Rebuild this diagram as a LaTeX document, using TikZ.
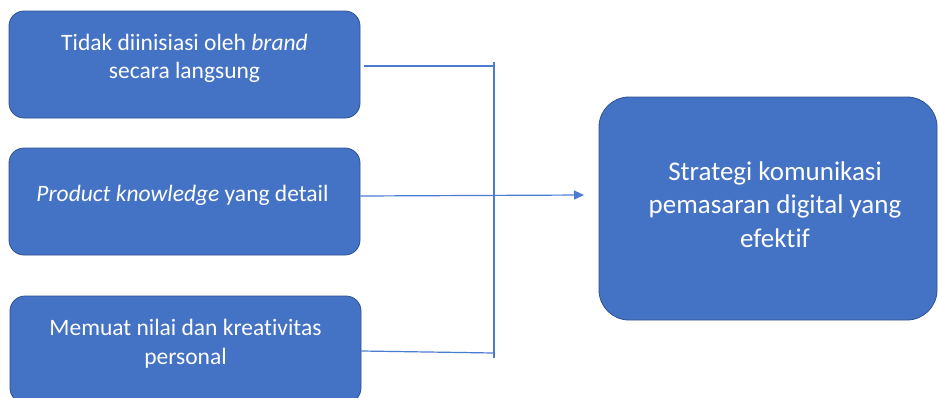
\documentclass[tikz,border=0pt]{standalone}
\usepackage{fontspec}
\setmainfont[Ligatures={NoCommon,NoRare}]{Carlito}
\usetikzlibrary{arrows.meta}
\definecolor{boxfill}{HTML}{4472C4}
\definecolor{boxline}{HTML}{2F528F}
\definecolor{connline}{HTML}{4A7BD0}
\tikzset{
  leftbox/.style={draw=boxline, line width=0.8pt, fill=boxfill, rounded corners=15pt,
    minimum width=351pt, minimum height=107pt, inner sep=0pt},
  bigbox/.style={draw=boxline, line width=0.8pt, fill=boxfill, rounded corners=30pt,
    minimum width=338pt, minimum height=223pt, inner sep=0pt},
  lefttext/.style={text=white, align=center, font=\fontsize{23.5}{28.5}\selectfont, inner sep=0pt},
  bigtext/.style={text=white, align=center, font=\fontsize{27}{33.5}\selectfont, inner sep=0pt},
  conn/.style={draw=connline, line width=1.2pt},
  arrowconn/.style={conn, -{Triangle[length=10pt,width=9pt]}}
}
\begin{document}
\begin{tikzpicture}[x=1pt,y=-1pt]
\useasboundingbox (0,0) rectangle (938,397);
\clip (0,0) rectangle (938,397);
\fill[white] (0,0) rectangle (938,397);
% boxes
\node[leftbox] (b1) at (184.5,64.5) {};
\node[leftbox] (b2) at (184.5,201.5) {};
\node[leftbox] (b3) at (185.5,349.5) {};
\node[bigbox] (b4) at (768,208.5) {};
% texts
\node[lefttext] (t1) at ([yshift=6pt]b1.center) {Tidak diinisiasi oleh \textit{brand}\\secara langsung};
\node[lefttext] (t2) at ([xshift=-2pt,yshift=6pt]b2.center) {\textit{Product knowledge} yang detail};
\node[lefttext] (t3) at ([yshift=6pt]b3.center) {Memuat nilai dan kreativitas\\personal};
\node[bigtext] (t4) at ([xshift=7pt,yshift=4pt]b4.center) {Strategi komunikasi\\pemasaran digital yang\\efektif};
% connector points
\coordinate (s1) at (364,66);
\coordinate (j1) at (494,66);
\coordinate (vt) at (494,62);
\coordinate (vb) at (494,358);
\coordinate (j3) at (494,353);
\coordinate (tip) at (584,195);
% connectors
\draw[conn] (s1) -- (j1);
\draw[conn] (vt) -- (vb);
\draw[conn] ([yshift=-1.5pt]b3.east) -- (j3);
\draw[arrowconn] ([yshift=5.5pt]b2.east) -- (tip);
\end{tikzpicture}
\end{document}
